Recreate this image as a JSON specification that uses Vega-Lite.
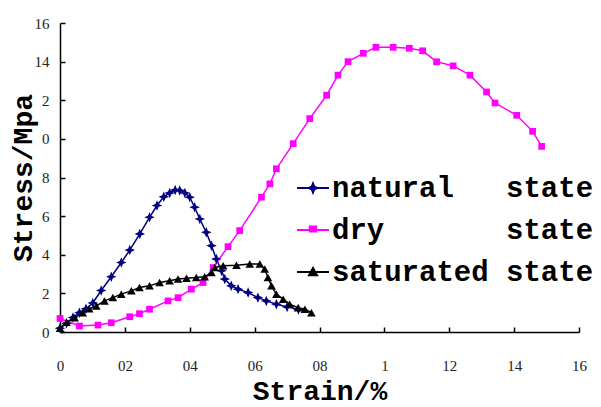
{
  "$schema": "https://vega.github.io/schema/vega-lite/v6.json",
  "width": 519,
  "height": 309,
  "autosize": {"type": "none"},
  "padding": {"left": 60, "top": 23, "right": 22, "bottom": 75},
  "background": "white",
  "config": {"view": {"stroke": null}},
  "data": {"values": [
    {"series": "natural", "strain": 0, "stress": 0.2},
    {"series": "natural", "strain": 0.02, "stress": 0.45},
    {"series": "natural", "strain": 0.04, "stress": 0.75},
    {"series": "natural", "strain": 0.06, "stress": 1.0},
    {"series": "natural", "strain": 0.08, "stress": 1.2},
    {"series": "natural", "strain": 0.101, "stress": 1.5},
    {"series": "natural", "strain": 0.127, "stress": 2.15},
    {"series": "natural", "strain": 0.158, "stress": 2.86},
    {"series": "natural", "strain": 0.189, "stress": 3.6},
    {"series": "natural", "strain": 0.215, "stress": 4.24},
    {"series": "natural", "strain": 0.246, "stress": 5.08},
    {"series": "natural", "strain": 0.276, "stress": 5.94},
    {"series": "natural", "strain": 0.299, "stress": 6.55},
    {"series": "natural", "strain": 0.32, "stress": 7.0},
    {"series": "natural", "strain": 0.338, "stress": 7.2},
    {"series": "natural", "strain": 0.355, "stress": 7.35},
    {"series": "natural", "strain": 0.369, "stress": 7.33},
    {"series": "natural", "strain": 0.385, "stress": 7.2},
    {"series": "natural", "strain": 0.4, "stress": 6.98},
    {"series": "natural", "strain": 0.415, "stress": 6.46},
    {"series": "natural", "strain": 0.431, "stress": 5.85},
    {"series": "natural", "strain": 0.451, "stress": 5.16},
    {"series": "natural", "strain": 0.467, "stress": 4.47},
    {"series": "natural", "strain": 0.482, "stress": 3.78},
    {"series": "natural", "strain": 0.498, "stress": 3.17},
    {"series": "natural", "strain": 0.508, "stress": 2.74},
    {"series": "natural", "strain": 0.528, "stress": 2.39},
    {"series": "natural", "strain": 0.549, "stress": 2.22},
    {"series": "natural", "strain": 0.58, "stress": 2.04},
    {"series": "natural", "strain": 0.61, "stress": 1.78},
    {"series": "natural", "strain": 0.636, "stress": 1.61},
    {"series": "natural", "strain": 0.667, "stress": 1.44},
    {"series": "natural", "strain": 0.7, "stress": 1.3},
    {"series": "natural", "strain": 0.735, "stress": 1.17},
    {"series": "dry", "strain": 0, "stress": 0.7},
    {"series": "dry", "strain": 0.06, "stress": 0.31},
    {"series": "dry", "strain": 0.117, "stress": 0.36},
    {"series": "dry", "strain": 0.158, "stress": 0.48},
    {"series": "dry", "strain": 0.215, "stress": 0.79},
    {"series": "dry", "strain": 0.245, "stress": 0.95},
    {"series": "dry", "strain": 0.276, "stress": 1.18},
    {"series": "dry", "strain": 0.333, "stress": 1.61},
    {"series": "dry", "strain": 0.364, "stress": 1.78},
    {"series": "dry", "strain": 0.405, "stress": 2.22},
    {"series": "dry", "strain": 0.441, "stress": 2.56},
    {"series": "dry", "strain": 0.472, "stress": 3.34},
    {"series": "dry", "strain": 0.518, "stress": 4.42},
    {"series": "dry", "strain": 0.554, "stress": 5.25},
    {"series": "dry", "strain": 0.621, "stress": 6.98},
    {"series": "dry", "strain": 0.647, "stress": 7.67},
    {"series": "dry", "strain": 0.667, "stress": 8.45},
    {"series": "dry", "strain": 0.719, "stress": 9.75},
    {"series": "dry", "strain": 0.77, "stress": 11.05},
    {"series": "dry", "strain": 0.822, "stress": 12.26},
    {"series": "dry", "strain": 0.857, "stress": 13.3},
    {"series": "dry", "strain": 0.888, "stress": 14.0},
    {"series": "dry", "strain": 0.935, "stress": 14.43},
    {"series": "dry", "strain": 0.974, "stress": 14.74},
    {"series": "dry", "strain": 1.027, "stress": 14.74},
    {"series": "dry", "strain": 1.077, "stress": 14.69},
    {"series": "dry", "strain": 1.118, "stress": 14.56},
    {"series": "dry", "strain": 1.161, "stress": 13.99},
    {"series": "dry", "strain": 1.212, "stress": 13.78},
    {"series": "dry", "strain": 1.264, "stress": 13.3},
    {"series": "dry", "strain": 1.315, "stress": 12.43},
    {"series": "dry", "strain": 1.341, "stress": 11.86},
    {"series": "dry", "strain": 1.408, "stress": 11.22},
    {"series": "dry", "strain": 1.457, "stress": 10.39},
    {"series": "dry", "strain": 1.485, "stress": 9.61},
    {"series": "saturated", "strain": 0, "stress": 0.2},
    {"series": "saturated", "strain": 0.02, "stress": 0.5},
    {"series": "saturated", "strain": 0.045, "stress": 0.74},
    {"series": "saturated", "strain": 0.07, "stress": 1.0},
    {"series": "saturated", "strain": 0.09, "stress": 1.2},
    {"series": "saturated", "strain": 0.112, "stress": 1.35},
    {"series": "saturated", "strain": 0.137, "stress": 1.61},
    {"series": "saturated", "strain": 0.163, "stress": 1.78},
    {"series": "saturated", "strain": 0.189, "stress": 1.96},
    {"series": "saturated", "strain": 0.22, "stress": 2.13},
    {"series": "saturated", "strain": 0.245, "stress": 2.3},
    {"series": "saturated", "strain": 0.276, "stress": 2.39},
    {"series": "saturated", "strain": 0.307, "stress": 2.56},
    {"series": "saturated", "strain": 0.338, "stress": 2.65},
    {"series": "saturated", "strain": 0.364, "stress": 2.74},
    {"series": "saturated", "strain": 0.39, "stress": 2.78},
    {"series": "saturated", "strain": 0.42, "stress": 2.82},
    {"series": "saturated", "strain": 0.446, "stress": 2.86},
    {"series": "saturated", "strain": 0.467, "stress": 3.08},
    {"series": "saturated", "strain": 0.477, "stress": 3.34},
    {"series": "saturated", "strain": 0.503, "stress": 3.43},
    {"series": "saturated", "strain": 0.544, "stress": 3.46},
    {"series": "saturated", "strain": 0.585, "stress": 3.52},
    {"series": "saturated", "strain": 0.616, "stress": 3.52},
    {"series": "saturated", "strain": 0.631, "stress": 3.26},
    {"series": "saturated", "strain": 0.641, "stress": 2.82},
    {"series": "saturated", "strain": 0.652, "stress": 2.39},
    {"series": "saturated", "strain": 0.667, "stress": 1.96},
    {"series": "saturated", "strain": 0.688, "stress": 1.7},
    {"series": "saturated", "strain": 0.708, "stress": 1.44},
    {"series": "saturated", "strain": 0.734, "stress": 1.26},
    {"series": "saturated", "strain": 0.755, "stress": 1.18},
    {"series": "saturated", "strain": 0.775, "stress": 1.0}
  ]},
  "encoding": {
    "x": {
      "field": "strain", "type": "quantitative",
      "scale": {"domain": [0, 1.6], "nice": false, "zero": false},
      "axis": {
        "title": "Strain/%",
        "values": [0, 0.2, 0.4, 0.6, 0.8, 1, 1.2, 1.4, 1.6],
        "labelExpr": "datum.value == 0 ? '0' : datum.value == 1 ? '1' : replace(format(datum.value, '.1f'), '.', '')",
        "grid": false,
        "labelFont": "Liberation Serif", "labelFontSize": 15, "labelColor": "#222222",
        "labelPadding": 31, "labelFlush": false, "labelOverlap": false,
        "tickSize": -5, "tickColor": "black", "tickWidth": 1.5,
        "domainColor": "black", "domainWidth": 1.5,
        "titleFont": "Liberation Mono", "titleFontWeight": "bold", "titleFontSize": 28,
        "titleColor": "black", "titlePadding": 4
      }
    },
    "y": {
      "field": "stress", "type": "quantitative",
      "scale": {"domain": [0, 16], "nice": false},
      "axis": {
        "title": "Stress/Mpa",
        "values": [0, 2, 4, 6, 8, 10, 12, 14, 16],
        "labelExpr": "datum.value == 10 ? '0' : datum.value == 12 ? '2' : datum.label",
        "grid": false,
        "labelFont": "Liberation Serif", "labelFontSize": 15, "labelColor": "#222222",
        "labelPadding": 16, "labelFlush": false, "labelOverlap": false,
        "tickSize": -5, "tickColor": "black", "tickWidth": 1.5,
        "domainColor": "black", "domainWidth": 1.5,
        "titleFont": "Liberation Mono", "titleFontWeight": "bold", "titleFontSize": 28,
        "titleColor": "black", "titlePadding": -3
      }
    },
    "color": {
      "field": "series", "type": "nominal",
      "scale": {"domain": ["natural", "dry", "saturated"], "range": ["#000080", "#FF00FF", "#000000"]},
      "legend": {
        "orient": "none", "legendX": 236, "legendY": 148,
        "title": null, "padding": 0,
        "labelFont": "Liberation Mono", "labelFontWeight": "bold", "labelFontSize": 29,
        "labelColor": "black", "labelOffset": 2, "rowPadding": 10, "labelLimit": 500,
        "symbolSize": 1024,
        "labelExpr": "datum.value == 'natural' ? 'natural\u00a0\u00a0\u00a0state' : datum.value == 'dry' ? 'dry\u00a0\u00a0\u00a0\u00a0\u00a0\u00a0\u00a0state' : 'saturated\u00a0state'",
        "encode": {
          "symbols": {
            "update": {
              "shape": {"signal": "datum.value == 'natural' ? 'M-1,0L1,0M0,-0.28L0.08,-0.08L0.28,0L0.08,0.08L0,0.28L-0.08,0.08L-0.28,0L-0.08,-0.08Z' : datum.value == 'dry' ? 'M-1,0L1,0M-0.2,-0.22L0.2,-0.22L0.2,0.1L-0.2,0.1Z' : 'M-1,0L1,0M0,-0.25L0.25,0.2L-0.25,0.2Z'"},
              "stroke": {"signal": "datum.value == 'natural' ? '#000080' : datum.value == 'dry' ? '#FF00FF' : '#000000'"},
              "fill": {"signal": "datum.value == 'natural' ? '#000080' : datum.value == 'dry' ? '#FF00FF' : '#000000'"},
              "strokeWidth": {"value": 2},
              "opacity": {"value": 1}
            }
          }
        }
      }
    }
  },
  "layer": [
    {
      "mark": {"type": "line", "strokeWidth": 1.5},
      "encoding": {
        "order": {"field": "strain", "type": "quantitative"}
      }
    },
    {
      "transform": [{"filter": "datum.series == 'natural'"}],
      "mark": {"type": "point", "filled": true, "opacity": 1, "size": 110, "shape": "M0,-1L0.3,-0.3L1,0L0.3,0.3L0,1L-0.3,0.3L-1,0L-0.3,-0.3Z"}
    },
    {
      "transform": [{"filter": "datum.series == 'dry'"}],
      "mark": {"type": "point", "filled": true, "opacity": 1, "size": 45, "shape": "square"}
    },
    {
      "transform": [{"filter": "datum.series == 'saturated'"}],
      "mark": {"type": "point", "filled": true, "opacity": 1, "size": 75, "shape": "triangle-up"}
    }
  ]
}
